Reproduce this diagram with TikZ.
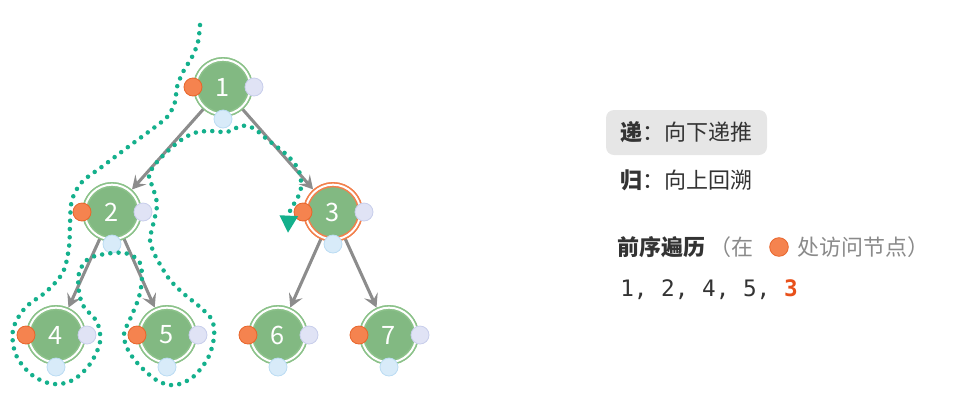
\documentclass[tikz,border=0pt]{standalone}
\usepackage{fontspec}
\setmainfont{Noto Sans CJK SC}
\setmonofont{DejaVu Sans Mono}
\usetikzlibrary{arrows.meta}
\definecolor{ngreen}{HTML}{82B982}
\definecolor{rgreen}{HTML}{8CC28A}
\definecolor{oring}{HTML}{F2804C}
\definecolor{dorange}{HTML}{F5834F}
\definecolor{dorangeb}{HTML}{E8652B}
\definecolor{dlav}{HTML}{E0E3F5}
\definecolor{dlavb}{HTML}{C8CEEB}
\definecolor{dblue}{HTML}{D8EBF9}
\definecolor{dblueb}{HTML}{BBDCF3}
\definecolor{tpath}{HTML}{14B08C}
\definecolor{egray}{HTML}{8C8C8C}
\definecolor{tdark}{HTML}{333333}
\definecolor{tgray}{HTML}{8A8A8A}
\definecolor{tred}{HTML}{E8501A}
\definecolor{boxgray}{HTML}{E6E6E6}
\begin{document}
\begin{tikzpicture}[x=0.75pt,y=-0.75pt,
 tnode/.style={circle, fill=ngreen, draw=rgreen, double=white, line width=1.2pt, double distance=1.5pt, minimum size=41pt, inner sep=0pt, text=white, font=\fontsize{19}{19}\selectfont},
 hl/.style={tnode, draw=oring},
 pdot/.style={circle, minimum size=13.5pt, inner sep=0pt, line width=0.6pt},
 odot/.style={pdot, fill=dorange, draw=dorangeb},
 ldot/.style={pdot, fill=dlav, draw=dlavb},
 bdot/.style={pdot, fill=dblue, draw=dblueb},
 edge/.style={draw=egray, line width=2.3pt, -{Stealth[length=10pt,width=11pt,inset=4pt]}, shorten >=1.5pt},
 trail/.style={draw=tpath, line width=3.4pt, line cap=round, dash pattern=on 0pt off 6.2pt, -{Triangle[length=13pt,width=13pt]}},
 lbl/.style={anchor=west, inner sep=0pt, text=tdark, font=\fontsize{16.5}{18}\selectfont}
]
\useasboundingbox (0,0) rectangle (957,412);
% tree nodes
\node[tnode] (n1) at (223,87) {1};
\node[tnode] (n2) at (112,212) {2};
\node[hl]    (n3) at (333,212) {3};
\node[tnode] (n4) at (56,335) {4};
\node[tnode] (n5) at (167,335) {5};
\node[tnode] (n6) at (278,335) {6};
\node[tnode] (n7) at (389,335) {7};
% edges
\draw[edge] (n1) -- (n2);
\draw[edge] (n1) -- (n3);
\draw[edge] (n2) -- (n4);
\draw[edge] (n2) -- (n5);
\draw[edge] (n3) -- (n6);
\draw[edge] (n3) -- (n7);
% redraw nodes on top of edges
\node[tnode] at (n1) {1};
\node[tnode] at (n2) {2};
\node[hl]    at (n3) {3};
\node[tnode] at (n4) {4};
\node[tnode] at (n5) {5};
\node[tnode] at (n6) {6};
\node[tnode] at (n7) {7};
% visit markers
\foreach \n/\x/\y in {1/223/87,2/112/212,3/333/212,4/56/335,5/167/335,6/278/335,7/389/335}{
  \node[odot] (o\n) at (\x-30,\y) {};
  \node[ldot] (l\n) at (\x+31,\y) {};
  \node[bdot] (b\n) at (\x,\y+32) {};
}
% traversal trail
\draw[trail] plot[smooth, tension=0.55] coordinates {
 (200,25) (198,42) (192,57) (183,72) (177,87) (175,102) (168,116) (155,127)
 (128,147) (103,166) (82,182) (72,200) (70,223) (69,247) (63,272) (47,291)
 (25,308) (13,330) (16,355) (32,375) (53,384) (73,380) (90,364) (100,342)
 (97,322) (84,307) (79,292) (79,273) (88,259) (105,254) (125,253) (139,261)
 (142,277) (139,297) (131,317) (124,334) (128,350) (140,366) (158,381)
 (175,385) (193,377) (208,358) (214,337) (212,320) (200,307) (184,294)
 (170,280) (161,266) (154,253) (150,240) (153,225) (157,205) (153,188)
 (149,176) (157,162) (177,143) (194,133) (211,131) (227,132) (241,126)
 (253,128) (268,140) (288,156) (299,171) (301,188) (296,201) (290,211) (288,233)};
% legend
\node[fill=boxgray, rounded corners=6pt, minimum width=120.75pt, minimum height=33.75pt, inner sep=0pt] (box) at (686.5,132.5) {};
\node[lbl] (t1) at (620,132) {\textbf{递}：向下递推};
\node[lbl] (t2) at (620,180) {\textbf{归}：向上回溯};
\node[lbl] (t3) at (617,247) {\textbf{前序遍历}\hspace{3pt}\textcolor{tgray}{（在}};
\node[odot, minimum size=14pt] (key) at (779,247) {};
\node[lbl, text=tgray] (t4) at (797,247) {处访问节点）};
\node[lbl, font=\ttfamily\fontsize{17}{18}\selectfont] (seq) at (620,290) {1, 2, 4, 5, \textcolor{tred}{\textbf{3}}};
\end{tikzpicture}
\end{document}
